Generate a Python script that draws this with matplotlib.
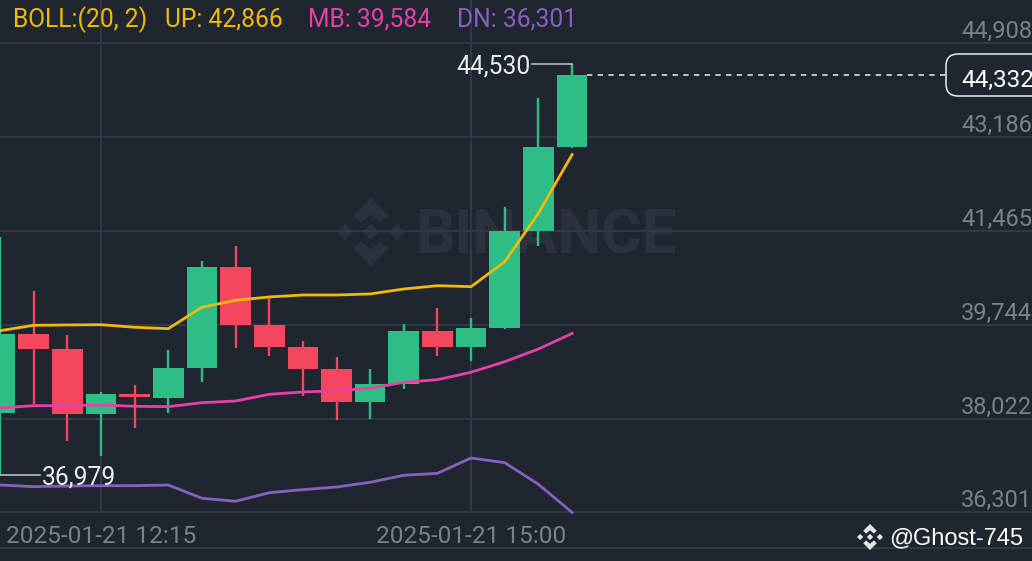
import matplotlib
matplotlib.use("Agg")
import matplotlib.pyplot as plt
from matplotlib.patches import Polygon, FancyBboxPatch
from matplotlib.transforms import Affine2D

W, H = 1032, 561
BG = "#1f2630"
GRID = "#333a46"
GREEN = "#2ebd85"
RED = "#f6465d"
YELLOW = "#f0b90b"
PINK = "#e83fa8"
PURPLE = "#8860bd"

# candles, 15 min each
opens = [38125, 39575, 39299, 38101, 38474, 38406, 38951, 40810, 39734, 39336, 38932, 38332, 38663, 39630, 39331, 39690, 41465, 43006]
highs = [41355, 40369, 39551, 38516, 38639, 39276, 40909, 41189, 40254, 39452, 39158, 38927, 39753, 40046, 39863, 41905, 43900, 44530]
lows = [36979, 38296, 37611, 37341, 37855, 38125, 38699, 39312, 39176, 38442, 38002, 38015, 38571, 39176, 39079, 39672, 41189, 42982]
closes = [39575, 39305, 38101, 38468, 38419, 38945, 40804, 39734, 39342, 38938, 38332, 38663, 39635, 39331, 39685, 41459, 43006, 44332]

# bollinger bands
boll_up = [39635, 39734, 39740, 39745, 39698, 39672, 40065, 40193, 40254, 40290, 40290, 40309, 40400, 40461, 40443, 40901, 41789, 42866]
boll_mb = [38217, 38259, 38259, 38272, 38248, 38241, 38314, 38345, 38468, 38510, 38534, 38578, 38688, 38736, 38872, 39066, 39299, 39584]
boll_dn = [36804, 36773, 36785, 36791, 36791, 36804, 36560, 36505, 36662, 36718, 36767, 36853, 36982, 37018, 37299, 37213, 36817, 36301]

price_ticks = [36301, 38022, 39744, 41465, 43186, 44908]
price_labels = ["36,301", "38,022", "39,744", "41,465", "43,186", "44,908"]
time_ticks = [3, 14]
time_labels = ["2025-01-21 12:15", "2025-01-21 15:00"]

header = [("BOLL:(20, 2)", 13, YELLOW), ("UP: 42,866", 165, YELLOW), ("MB: 39,584", 308, PINK), ("DN: 36,301", 457, PURPLE)]

fig = plt.figure(figsize=(W / 100, H / 100), dpi=100, facecolor=BG)
ax = fig.add_axes([0, 0, 1, 1], facecolor=BG)
ax.set_xlim(0, W / 33.65)
ax.set_ylim(35409, 45703)
for s in ax.spines.values():
    s.set_visible(False)

# pixel coords with origin top left, for the overlay things
px = Affine2D().scale(1, -1).translate(0, H)


def logo(cx, cy, r, color, zorder):
    shapes = [
        [(0, -1), (0.52, -0.48), (0.3, -0.26), (0, -0.52), (-0.3, -0.26), (-0.52, -0.48)],
        [(0, 1), (0.52, 0.48), (0.3, 0.26), (0, 0.52), (-0.3, 0.26), (-0.52, 0.48)],
        [(0, -0.24), (0.24, 0), (0, 0.24), (-0.24, 0)],
        [(-0.76, -0.24), (-0.52, 0), (-0.76, 0.24), (-1, 0)],
        [(0.76, -0.24), (1, 0), (0.76, 0.24), (0.52, 0)],
    ]
    for shape in shapes:
        pts = [(cx + a * r, cy + b * r) for a, b in shape]
        ax.add_patch(Polygon(pts, closed=True, facecolor=color, edgecolor="none", transform=px, zorder=zorder, clip_on=False))


# watermark
logo(371, 232, 34, "#2c323d", 0.5)
ax.text(415 / W, 1 - 237 / H, "BINANCE", transform=ax.transAxes, color="#2c323d", fontsize=44.5,
        family="Roboto", weight="bold", va="center", ha="left", zorder=0.5)

# grid
ax.set_yticks(price_ticks)
ax.set_yticklabels(price_labels)
ax.yaxis.tick_right()
ax.tick_params(axis="y", length=0, pad=-51, labelsize=17, labelcolor="#7b818b")
for lab in ax.get_yticklabels():
    lab.set_family("Roboto")
    lab.set_va("bottom")
    lab.set_ha("left")
ax.set_xticks(time_ticks)
ax.set_xticklabels(time_labels)
ax.tick_params(axis="x", length=0, pad=-26, labelsize=17.6, labelcolor="#7b818b")
for lab in ax.get_xticklabels():
    lab.set_family("Roboto")
ax.grid(axis="y", color=GRID, lw=1.3, zorder=1)
ax.vlines(time_ticks, price_ticks[0], 45703, color=GRID, lw=1.3, zorder=1)
ax.axhline(35648, color=GRID, lw=1.3, zorder=1)
ax.set_axisbelow(True)

# candles
for i in range(len(opens)):
    col = GREEN if closes[i] >= opens[i] else RED
    ax.vlines(i, lows[i], highs[i], color=col, lw=1.7, zorder=2)
    ax.bar(i, abs(closes[i] - opens[i]), bottom=min(opens[i], closes[i]), width=0.91, color=col, zorder=3)

xs = list(range(len(boll_up)))
ax.plot(xs, boll_up, color=YELLOW, lw=2, zorder=4)
ax.plot(xs, boll_mb, color=PINK, lw=2, zorder=4)
ax.plot(xs, boll_dn, color=PURPLE, lw=2, zorder=4)

# high / low markers
ax.plot([15.8, 17], [highs[17], highs[17]], color="#c4c7cc", lw=1.1, zorder=5)
ax.text(15.78, highs[17] - 50, "44,530", color="#eaecef", fontsize=17.7, family="Roboto", ha="right", va="center", zorder=6)
ax.plot([0, 1.2], [lows[0], lows[0]], color="#c4c7cc", lw=1.1, zorder=5)
ax.text(1.24, lows[0] - 40, "36,979", color="#eaecef", fontsize=17.7, family="Roboto", ha="left", va="center", zorder=6)

# last price line and box
ax.plot([17.45, 28.1], [closes[17], closes[17]], color="#eaecef", lw=1.1, dashes=(3.5, 3.5), zorder=5)
ax.add_patch(FancyBboxPatch((956, 64), 100, 22, boxstyle="round,pad=10,rounding_size=12", mutation_aspect=1,
                            facecolor=BG, edgecolor="#eaecef", lw=1.1, transform=px, zorder=6))
fig.text(961 / W, 1 - 80 / H, "44,332", color="#ffffff", fontsize=17.5, family="Roboto", va="center", ha="left", zorder=7)

# header
for txt, x, col in header:
    fig.text(x / W, 1 - 20 / H, txt, color=col, fontsize=17.7, family="Roboto", va="center", ha="left")

# user tag
logo(870, 537, 13, "#e2e3e5", 8)
fig.text(889 / W, 1 - 538 / H, "@Ghost-745", color="#ffffff", fontsize=17, family="Liberation Sans", va="center", ha="left")

fig.savefig("out.png", dpi=100, facecolor=BG)
